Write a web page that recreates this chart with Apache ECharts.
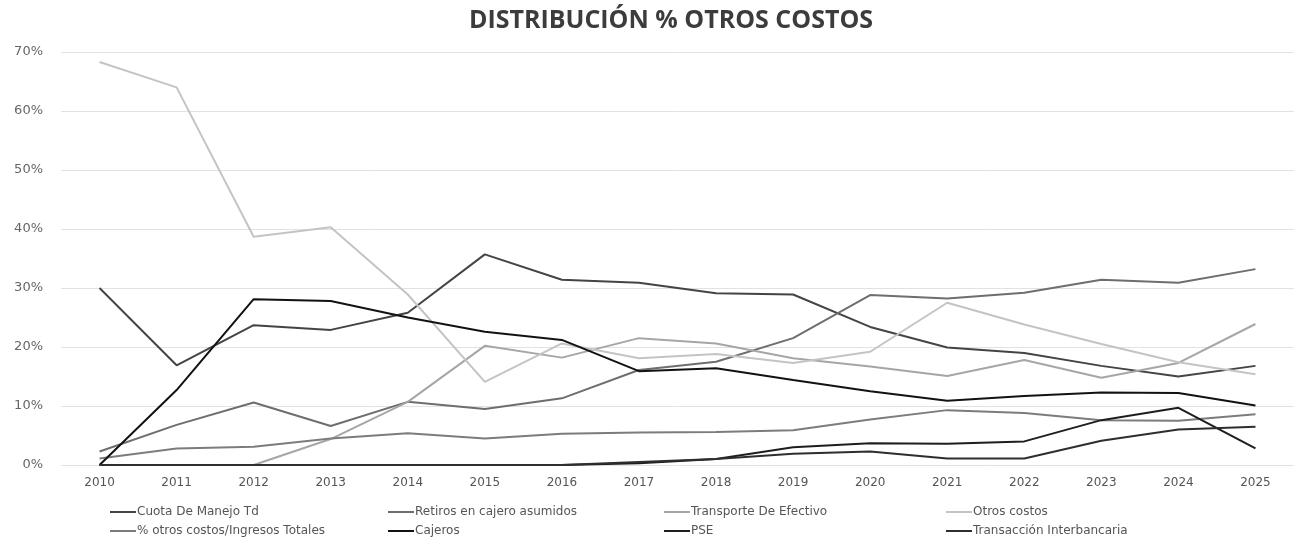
<!DOCTYPE html>
<html>
<head>
    <meta charset="utf-8">
    <title>distribucion otros costos</title>
    <script src="https://cdn.jsdelivr.net/npm/echarts@6/dist/echarts.min.js"></script>
    <style>
        html, body { margin: 0; padding: 0; background: #fff; }
    </style>
</head>
<body>
    <div id="chart" style="width: 1294px;height:537px;"></div>
    <script type="text/javascript">
        // data (percent)
        var years = ['2010', '2011', '2012', '2013', '2014', '2015', '2016', '2017',
                     '2018', '2019', '2020', '2021', '2022', '2023', '2024', '2025'];
        var yTicks = [0, 10, 20, 30, 40, 50, 60, 70];

        var cuotaManejo   = [30, 16.9, 23.7, 22.9, 25.8, 35.7, 31.4, 30.9, 29.1, 28.9, 23.4, 19.9, 19, 16.8, 15, 16.8];
        var retirosCajero = [2.3, 6.8, 10.6, 6.6, 10.7, 9.5, 11.3, 16.1, 17.5, 21.5, 28.8, 28.2, 29.2, 31.4, 30.9, 33.2];
        var transporte    = [0, 0, 0, 4.4, 10.7, 20.2, 18.2, 21.5, 20.6, 18.1, 16.7, 15.1, 17.8, 14.8, 17.3, 23.9];
        var otrosCostos   = [68.3, 64, 38.7, 40.3, 28.9, 14.1, 20.6, 18.1, 18.8, 17.3, 19.2, 27.5, 23.8, 20.5, 17.4, 15.4];
        var pctOtros      = [1.1, 2.8, 3.1, 4.5, 5.4, 4.5, 5.3, 5.5, 5.6, 5.9, 7.7, 9.3, 8.8, 7.6, 7.5, 8.6];
        var cajeros       = [0, 12.7, 28.1, 27.8, 25, 22.6, 21.2, 15.9, 16.4, 14.4, 12.5, 10.9, 11.7, 12.3, 12.2, 10.1];
        var pse           = [0, 0, 0, 0, 0, 0, 0, 0.3, 1, 3, 3.7, 3.6, 4, 7.6, 9.7, 2.8];
        var interbancaria = [0, 0, 0, 0, 0, 0, 0, 0.5, 1, 1.9, 2.3, 1.1, 1.1, 4.1, 6, 6.5];

        var names = ['Cuota De Manejo Td', 'Retiros en cajero asumidos', 'Transporte De Efectivo', 'Otros costos',
                     '% otros costos/Ingresos Totales', 'Cajeros', 'PSE', 'Transacción Interbancaria'];
        var values = [cuotaManejo, retirosCajero, transporte, otrosCostos, pctOtros, cajeros, pse, interbancaria];
        var colors = ['#444444', '#6e6e6e', '#a6a6a6', '#c4c4c4', '#7c7c7c', '#121212', '#1e1e1e', '#2e2e2e'];

        var series = [];
        for (var i = 0; i < names.length; i++) {
            series.push({
                name: names[i],
                type: 'line',
                data: values[i],
                symbol: 'none',
                smooth: false,
                lineStyle: { width: 2, color: colors[i] },
                itemStyle: { color: colors[i] }
            });
        }

        // one legend per item so the 4 x 2 grid of the original holds
        var legendCols = [110, 388, 664, 946];
        var legendRows = [506, 525];
        var legends = [];
        for (var k = 0; k < names.length; k++) {
            legends.push({
                left: legendCols[k % 4],
                top: legendRows[Math.floor(k / 4)],
                padding: 0,
                itemWidth: 26,
                itemHeight: 2,
                icon: 'rect',
                data: [names[k]],
                textStyle: { fontFamily: 'DejaVu Sans', fontSize: 12, color: '#555', padding: [0, 0, 0, -4] }
            });
        }

        var myChart = echarts.init(document.getElementById('chart'));
        var option = {
            animation: false,
            title: {
                text: 'DISTRIBUCIÓN % OTROS COSTOS',
                left: 666,
                textAlign: 'center',
                top: 3,
                textStyle: { fontFamily: 'Open Sans', fontWeight: 'bold', fontSize: 25, color: '#3c3c3c' }
            },
            legend: legends,
            grid: { left: 61, top: 52, width: 1246, bottom: 72 },
            xAxis: {
                type: 'category',
                data: years,
                boundaryGap: true,
                axisLine: { show: false },
                axisTick: { show: false },
                axisLabel: { fontFamily: 'DejaVu Sans', fontSize: 12, color: '#555', margin: 12 }
            },
            yAxis: {
                type: 'value',
                min: yTicks[0],
                max: yTicks[yTicks.length - 1],
                interval: 10,
                axisLabel: { fontFamily: 'DejaVu Sans', fontSize: 13, color: '#666', margin: 18, formatter: '{value}%' },
                splitLine: { lineStyle: { color: '#e2e2e2', width: 1 } }
            },
            series: series
        };
        myChart.setOption(option);
    </script>
</body>
</html>
